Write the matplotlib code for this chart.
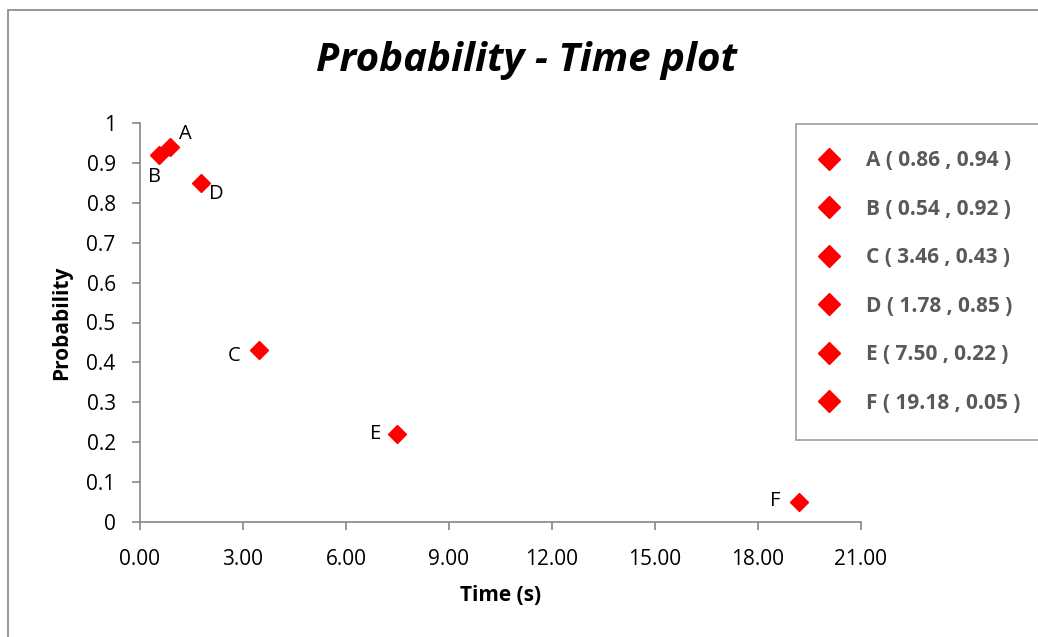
import matplotlib.pyplot as plt
from matplotlib.patches import Rectangle

plt.rcParams['font.family'] = ['Open Sans', 'DejaVu Sans']

names = ["A", "B", "C", "D", "E", "F"]
times = [0.86, 0.54, 3.46, 1.78, 7.50, 19.18]
probs = [0.94, 0.92, 0.43, 0.85, 0.22, 0.05]
# where each point's letter sits (offset in points from the marker)
label_pos = {"A": (7, 2, "left", "bottom"),
             "B": (-3, -9, "center", "top"),
             "C": (-13, -4, "right", "center"),
             "D": (6, -1, "left", "top"),
             "E": (-12, 0, "right", "center"),
             "F": (-13, 1, "right", "center")}

fig = plt.figure(figsize=(10.38, 6.37), dpi=100)
W, H = 1038, 637
ax = fig.add_axes([140 / W, 1 - 522 / H, (861 - 140) / W, (522 - 123) / H])

# outer chart border (runs off the right/bottom edge like the original)
fig.patches.append(Rectangle((8 / W, -0.1), 1.2, 1 - 10 / H + 0.1, transform=fig.transFigure,
                             fill=False, edgecolor="#868686", linewidth=1.2))

for n, t, p in zip(names, times, probs):
    ax.plot(t, p, linestyle="none", marker="D", markersize=9, color="#FF0000",
            label="%s ( %.2f , %.2f )" % (n, t, p))
    dx, dy, ha, va = label_pos[n]
    ax.annotate(n, (t, p), xytext=(dx, dy), textcoords="offset points",
                ha=ha, va=va, fontsize=14.5, color="black")

ax.set_xlim(0, 21)
ax.set_ylim(0, 1)
xt = [0, 3, 6, 9, 12, 15, 18, 21]
ax.set_xticks(xt)
ax.set_xticklabels(["%.2f" % v for v in xt])
ax.set_yticks([0, 0.1, 0.2, 0.3, 0.4, 0.5, 0.6, 0.7, 0.8, 0.9, 1])
ax.set_yticklabels(["0", "0.1", "0.2", "0.3", "0.4", "0.5", "0.6", "0.7", "0.8", "0.9", "1"])
ax.tick_params(axis="both", direction="out", length=5.5, width=1.2, color="#868686",
               labelsize=15)
ax.tick_params(axis="y", pad=12)
ax.tick_params(axis="x", pad=14)
for s in ["top", "right"]:
    ax.spines[s].set_visible(False)
for s in ["left", "bottom"]:
    ax.spines[s].set_color("#868686")
    ax.spines[s].set_linewidth(1.2)

ax.set_xlabel("Time (s)", fontsize=15, fontweight="bold", labelpad=11)
ax.set_ylabel("Probability", fontsize=15, fontweight="bold", labelpad=10)
fig.text(527 / W, 1 - 60 / H, "Probability - Time plot", ha="center", va="center",
         fontsize=29, fontweight="bold", fontstyle="italic")

leg = fig.legend(loc="upper left", bbox_to_anchor=(796 / W, 1 - 124 / H), frameon=True,
                 fancybox=False, edgecolor="#868686", fontsize=15, labelspacing=1.32,
                 handletextpad=1.4, borderpad=1.25, handlelength=0.7, markerscale=1.3,
                 borderaxespad=0)
leg.get_frame().set_linewidth(1.2)
for txt in leg.get_texts():
    txt.set_color("#595959")
    txt.set_fontweight("bold")

fig.savefig("out.png", dpi=100)
